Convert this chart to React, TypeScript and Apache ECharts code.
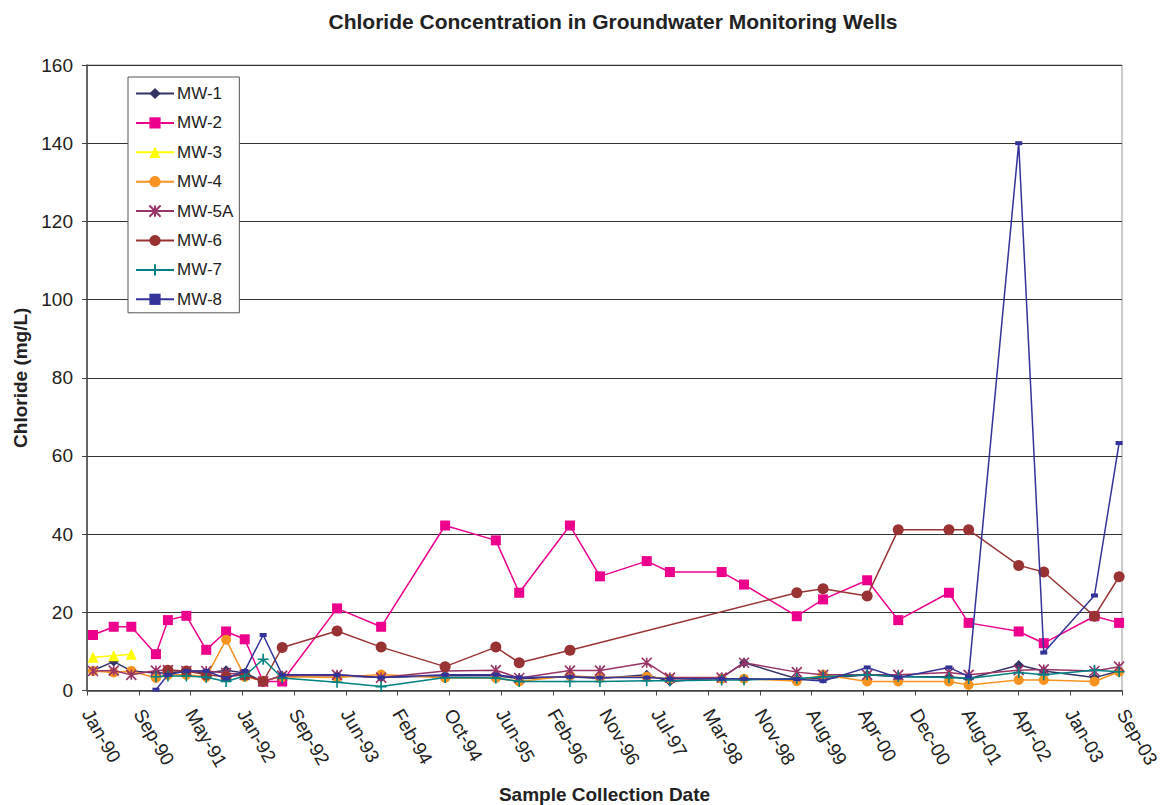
import React, { useEffect, useRef } from "react";
import * as echarts from "echarts";

const sampleDates = [
  "1990-01-30", "1990-05-10", "1990-08-03", "1990-11-30", "1991-01-27", "1991-04-26",
  "1991-07-31", "1991-11-04", "1992-02-02", "1992-05-01", "1992-08-01", "1993-04-23",
  "1993-11-22", "1994-09-27", "1995-05-30", "1995-09-20", "1996-05-22", "1996-10-14",
  "1997-05-28", "1997-09-17", "1998-05-25", "1998-09-10", "1999-05-23", "1999-09-27",
  "2000-04-27", "2000-09-24", "2001-05-27", "2001-08-30", "2002-04-29", "2002-08-28",
  "2003-04-30", "2003-08-27",
];

const mw1 = [5.1, 7.4, 5.0, 4.5, 4.5, 5.0, 4.5, 5.2, 4.5, 2.3, 3.8, 3.8, 3.3, 3.8, 3.8, 3.0, 3.5, 3.1, 4.0, 2.3, 3.3, 7.1, 3.0, 3.0, 4.0, 3.5, 3.5, 3.0, 6.5, 5.0, 3.3, 5.0];
const mw2 = [14.2, 16.3, 16.3, 9.3, 18.0, 19.1, 10.4, 15.1, 13.1, 2.3, 2.3, 21.0, 16.3, 42.2, 38.4, 25.0, 42.2, 29.2, 33.1, 30.3, 30.3, 27.1, 19.0, 23.3, 28.2, 18.0, 25.0, 17.3, 15.1, 12.1, 19.0, 17.3];
const mw3 = [8.5, 8.9, 9.3, null, null, null, null, null, null, null, null, null, null, null, null, null, null, null, null, null, null, null, null, null, null, null, null, null, null, null, null, null];
const mw4 = [5.0, 4.6, 5.0, 3.2, 4.0, 4.0, 3.5, 13.0, 3.5, 2.5, 3.5, 3.3, 4.1, 3.2, 3.2, 2.3, 3.8, 3.3, 3.5, 3.0, 3.0, 3.0, 2.4, 4.0, 2.3, 2.3, 2.3, 1.4, 2.7, 2.7, 2.3, 4.8];
const mw5a = [5.0, 5.1, 4.0, 5.1, 5.2, 5.0, 5.0, 4.5, 4.0, 2.3, 3.8, 4.0, 3.3, 5.0, 5.2, 3.2, 5.1, 5.1, 7.1, 3.3, 3.3, 7.1, 4.7, 4.0, 4.0, 4.0, 4.6, 4.0, 5.2, 5.4, 5.0, 6.1];
const mw6 = [null, null, null, null, 5.2, 5.0, 4.0, 3.5, 4.0, 2.3, 11.0, 15.2, 11.1, 6.1, 11.1, 7.1, 10.3, null, null, null, null, null, 25.0, 26.0, 24.2, 41.1, 41.1, 41.1, 32.0, 30.3, 19.0, 29.1];
const mw7 = [null, null, null, 3.5, 3.7, 3.7, 3.4, 2.3, 3.7, 8.0, 3.2, 2.1, 1.0, 3.3, 3.2, 2.3, 2.3, 2.3, 2.5, 2.5, 2.7, 2.7, 3.1, 3.5, 4.0, 3.6, 3.3, 3.1, 4.6, 4.0, 5.2, 4.8];
const mw8 = [null, null, null, 0.2, 4.0, 5.0, 5.0, 3.1, 5.0, 14.2, 4.0, 4.0, 3.3, 4.0, 4.0, 3.3, 3.5, 3.3, 3.3, 3.0, 3.0, 3.0, 2.9, 2.4, 5.9, 3.3, 5.9, 3.6, 140.0, 9.7, 24.3, 63.3];

const seriesNames = ["MW-1", "MW-2", "MW-3", "MW-4", "MW-5A", "MW-6", "MW-7", "MW-8"];
const seriesValues = [mw1, mw2, mw3, mw4, mw5a, mw6, mw7, mw8];

const AXIS_START = Date.UTC(1990, 0, 1);
const DAY = 86400000;
const MONTHS = ["Jan", "Feb", "Mar", "Apr", "May", "Jun", "Jul", "Aug", "Sep", "Oct", "Nov", "Dec"];

function toDay(s: string): number {
  const [y, m, d] = s.split("-").map(Number);
  return Math.round((Date.UTC(y, m - 1, d) - AXIS_START) / DAY);
}

function fmtDay(v: number): string {
  const dt = new Date(AXIS_START + v * DAY);
  const yy = String(dt.getUTCFullYear() % 100).padStart(2, "0");
  return MONTHS[dt.getUTCMonth()] + "-" + yy;
}

const styles: any[] = [
  { color: "#333366", symbol: "diamond", symbolSize: 10 },
  { color: "#EC008C", symbol: "rect", symbolSize: 10 },
  { color: "#FFFF00", symbol: "triangle", symbolSize: 11 },
  { color: "#F7931E", symbol: "circle", symbolSize: 10 },
  { color: "#993366", symbol: "path://M0 0L10 10M10 0L0 10M5 0L5 10", symbolSize: 10, stroke: true },
  { color: "#993333", symbol: "circle", symbolSize: 11 },
  { color: "#008080", symbol: "path://M5 0L5 10M0 5L10 5", symbolSize: 11, stroke: true },
  { color: "#333399", symbol: "rect", symbolSize: [7, 4] },
];

export default function App() {
  const ref = useRef<HTMLDivElement>(null);
  useEffect(() => {
    if (!ref.current) return;
    const chart = echarts.init(ref.current, null, { renderer: "svg" });
    const days = sampleDates.map(toDay);
    const font = "'Liberation Sans', Arial, sans-serif";
    const series = seriesNames.map((name, i) => {
      const st = styles[i];
      const data: number[][] = [];
      seriesValues[i].forEach((v, j) => {
        if (v !== null && v !== undefined) data.push([days[j], v as number]);
      });
      return {
        name,
        type: "line",
        data,
        symbol: st.symbol,
        symbolSize: st.symbolSize,
        showAllSymbol: true,
        lineStyle: { color: st.color, width: 1.5 },
        itemStyle: st.stroke
          ? { color: st.color, borderColor: st.color, borderWidth: 1.6 }
          : { color: st.color, borderWidth: 0 },
        emphasis: { disabled: true },
        z: 2 + i,
      };
    });
    chart.setOption({
      animation: false,
      backgroundColor: "#ffffff",
      textStyle: { fontFamily: font },
      title: {
        text: "Chloride Concentration in Groundwater Monitoring Wells",
        left: 608,
        textAlign: "center",
        top: 6,
        textStyle: { fontFamily: font, fontSize: 21, fontWeight: "bold", color: "#222" },
      },
      legend: {
        orient: "vertical",
        left: 128,
        top: 77,
        padding: [8, 6, 5, 7],
        itemGap: 12.4,
        itemWidth: 38,
        itemHeight: 14,
        backgroundColor: "#ffffff",
        borderColor: "#555",
        borderWidth: 1,
        borderRadius: 0,
        textStyle: { fontFamily: font, fontSize: 17, color: "#222", padding: [0, 0, 0, -2] },
        data: seriesNames,
      },
      grid: {
        left: 87,
        right: 41,
        top: 65,
        bottom: 114.5,
        show: true,
        borderColor: "#999",
        borderWidth: 1,
        outerBoundsMode: "none",
        containLabel: false,
      },
      xAxis: {
        type: "value",
        min: 0,
        max: 5000,
        interval: 250,
        name: "Sample Collection Date",
        nameLocation: "middle",
        nameGap: 94,
        nameTextStyle: { fontFamily: font, fontSize: 19, fontWeight: "bold", color: "#222" },
        axisLine: { show: true, lineStyle: { color: "#444", width: 1.5 } },
        axisTick: { show: true, length: 5, lineStyle: { color: "#444" } },
        splitLine: { show: false },
        axisLabel: {
          formatter: (v: number) => fmtDay(v),
          rotate: -60,
          margin: 20,
          fontFamily: font,
          fontSize: 19,
          color: "#222",
          showMinLabel: true,
          showMaxLabel: true,
          hideOverlap: false,
        },
      },
      yAxis: {
        type: "value",
        min: 0,
        max: 160,
        interval: 20,
        name: "Chloride (mg/L)",
        nameLocation: "middle",
        nameGap: 57,
        nameTextStyle: { fontFamily: font, fontSize: 19, fontWeight: "bold", color: "#222" },
        axisLine: { show: true, lineStyle: { color: "#444", width: 1.5 } },
        axisTick: { show: true, length: 5, lineStyle: { color: "#444" } },
        splitLine: { show: true, lineStyle: { color: "#333", width: 1 } },
        axisLabel: { margin: 14, fontFamily: font, fontSize: 19, color: "#222" },
      },
      series,
    });
    return () => chart.dispose();
  }, []);
  return (
    <div
      ref={ref}
      style={{ position: "fixed", left: 0, top: 0, width: 1163, height: 805, background: "#fff" }}
    />
  );
}
